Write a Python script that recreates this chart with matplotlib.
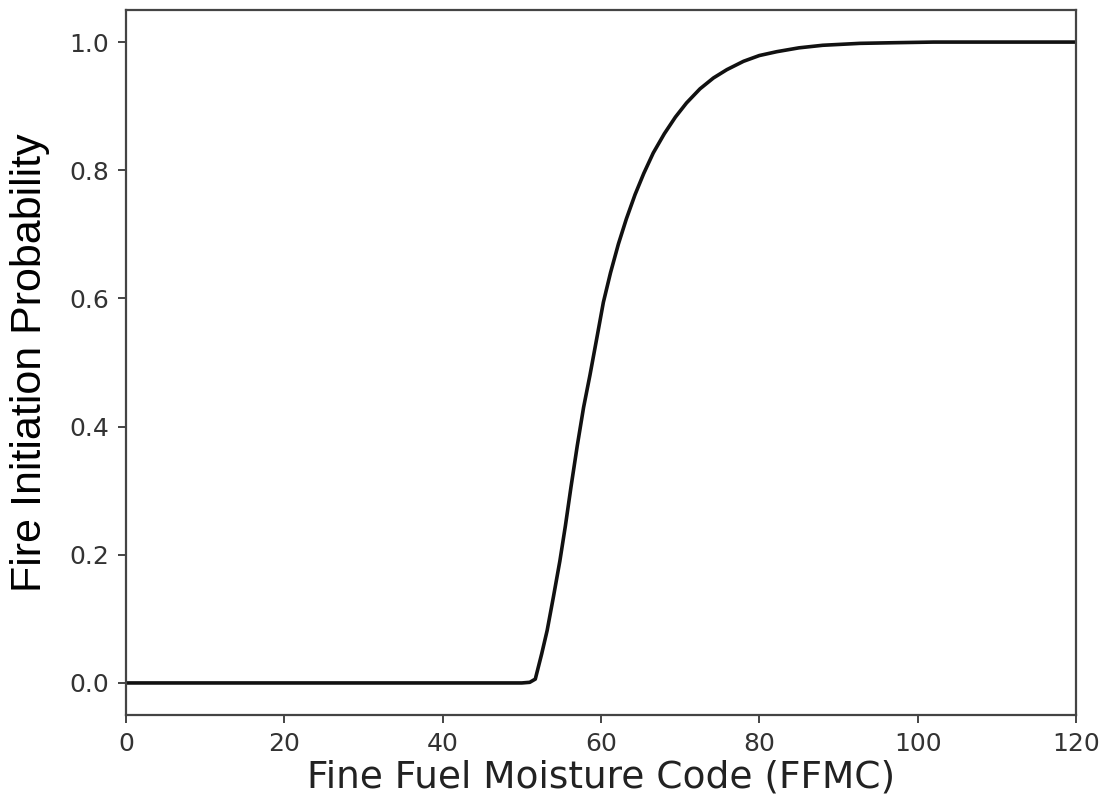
import matplotlib
matplotlib.use("Agg")
import matplotlib.pyplot as plt

# FFMC values and the fire initiation probability read at each
ffmc = [0, 10, 20, 30, 40, 50, 51.0, 51.7, 52.5, 53.2, 54.0, 54.8, 55.5,
        56.2, 57.0, 57.8, 58.6, 59.5, 60.3, 61.2, 62.2, 63.2, 64.3, 65.4,
        66.6, 68.0, 69.4, 70.8, 72.5, 74.2, 75.9, 78.0, 80.0, 82.2, 85.0,
        88.0, 92.7, 97.0, 102.0, 110.0, 120.0]
prob = [0, 0, 0, 0, 0, 0, 0.001, 0.006, 0.045, 0.082, 0.135, 0.190, 0.245,
        0.305, 0.370, 0.430, 0.480, 0.540, 0.594, 0.640, 0.685, 0.724, 0.762,
        0.795, 0.827, 0.857, 0.883, 0.905, 0.927, 0.944, 0.957, 0.970, 0.979,
        0.985, 0.991, 0.995, 0.998, 0.999, 1.0, 1.0, 1.0]

xticks = [0, 20, 40, 60, 80, 100, 120]
yticks = [0.0, 0.2, 0.4, 0.6, 0.8, 1.0]

fig = plt.figure(figsize=(11.06, 8.09), dpi=100)
ax = fig.add_axes([0.1139, 0.1162, 0.859, 0.8714])

ax.plot(ffmc, prob, color='#111111', linewidth=2.6, solid_capstyle='round')

ax.set_xlim(0, 120)
ax.set_ylim(-0.05, 1.05)
ax.set_xticks(xticks)
ax.set_yticks(yticks)
ax.set_xticklabels([str(t) for t in xticks])
ax.set_yticklabels(['%.1f' % t for t in yticks])

for s in ax.spines.values():
    s.set_linewidth(1.6)
    s.set_color('#444444')
ax.tick_params(length=6, width=1.4, color='#444444', labelsize=18,
               labelcolor='#333333', pad=6)

ax.set_xlabel('Fine Fuel Moisture Code (FFMC)', fontsize=27, color='#222222',
              labelpad=3)
ax.set_ylabel('Fire Initiation Probability', fontsize=31,
              family='Liberation Sans', color='#000000', labelpad=14)

fig.savefig('out.png', dpi=100)
